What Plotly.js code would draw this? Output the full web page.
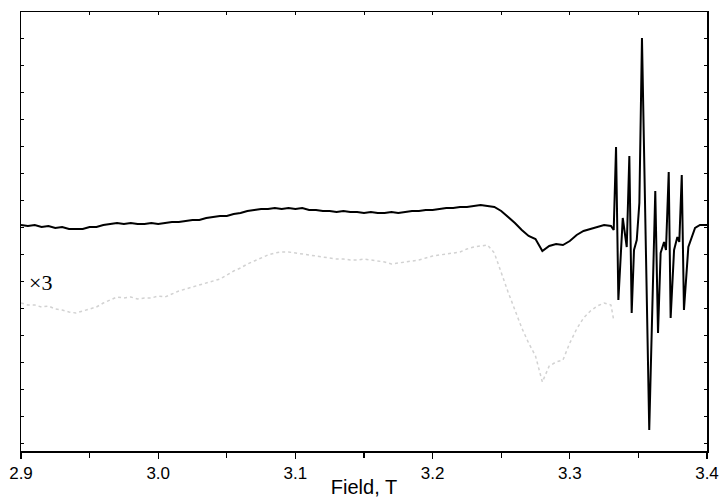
<!DOCTYPE html>
<html>
<head>
<meta charset="utf-8">
<script src="https://cdn.plot.ly/plotly-3.0.1.min.js"></script>
<style>html,body{margin:0;padding:0;background:#fff;}#chart{width:722px;height:498px;}</style>
</head>
<body>
<div id="chart"></div>
<script>
// Field (T) and signal (arbitrary units) for the measured spectrum
const fieldBlack = [
  2.900,2.905,2.910,2.915,2.920,2.925,2.930,2.935,2.940,2.945,2.950,2.955,2.960,2.965,2.970,2.975,2.980,2.985,2.990,2.995,
  3.000,3.005,3.010,3.015,3.020,3.025,3.030,3.035,3.040,3.045,3.050,3.055,3.060,3.065,3.070,3.075,3.080,3.085,3.090,3.095,
  3.100,3.105,3.110,3.115,3.120,3.125,3.130,3.135,3.140,3.145,3.150,3.155,3.160,3.165,3.170,3.175,3.180,3.185,3.190,3.195,
  3.200,3.205,3.210,3.215,3.220,3.225,3.230,3.235,3.240,3.245,3.250,3.255,3.260,3.265,3.270,3.275,3.280,3.285,3.290,3.295,
  3.300,3.305,3.310,3.315,3.320,3.325,3.330,3.332,
  3.3337,3.3354,3.3386,3.3415,3.3434,3.3451,3.3468,3.3488,3.3507,3.3526,3.3579,3.3623,3.3643,3.3662,3.3687,3.3701,
  3.3721,3.3735,3.3760,3.3784,3.3798,3.3816,3.3832,3.3864,3.3913,3.3949,3.400
];
const signalBlack = [
  0,-1,0,-2,-1,-3,-2,-4,-4,-4,-2,-2,0,1,2,1,2,1,1,2,
  1,2,3,3,4,5,5,7,8,9,9,11,12,14,15,16,16,17,16,17,
  16,17,15,15,14,14,13,14,13,13,12,13,12,12,13,12,13,14,14,15,
  15,16,17,17,18,18,19,20,19,18,14,8,2,-5,-11,-14,-26,-21,-19,-20,
  -16,-10,-6,-4,-2,0,-1,-5,
  78,-75,7,-22,69,-88,-25,-15,22,187,-205,34,-108,-28,-17,-25,
  53,-93,-25,-12,-17,50,-85,-22,-3,0,0
];
// The same spectrum magnified x3 (offset, dotted grey)
const fieldGrey = [
  2.900,2.905,2.910,2.915,2.920,2.925,2.930,2.935,2.940,2.945,2.950,2.955,2.960,2.965,2.970,2.975,2.980,2.985,2.990,2.995,
  3.000,3.005,3.010,3.015,3.020,3.025,3.030,3.035,3.040,3.045,3.050,3.055,3.060,3.065,3.070,3.075,3.080,3.085,3.090,3.095,
  3.100,3.105,3.110,3.115,3.120,3.125,3.130,3.135,3.140,3.145,3.150,3.155,3.160,3.165,3.170,3.175,3.180,3.185,3.190,3.195,
  3.200,3.205,3.210,3.215,3.220,3.225,3.230,3.235,3.240,3.245,3.250,3.255,3.260,3.265,3.270,3.275,3.280,3.285,3.290,3.295,
  3.300,3.305,3.310,3.315,3.320,3.325,3.330,3.332
];
const signalGrey = [
  -78,-80,-80,-82,-81,-84,-85,-87,-88,-86,-84,-82,-78,-75,-72,-73,-72,-74,-73,-73,
  -71,-72,-69,-66,-64,-62,-60,-58,-56,-54,-50,-46,-43,-39,-36,-33,-30,-28,-27,-27,
  -28,-29,-30,-31,-32,-33,-34,-34,-35,-35,-34,-35,-36,-37,-39,-38,-37,-36,-35,-33,
  -31,-30,-29,-28,-27,-24,-22,-21,-20,-28,-48,-67,-85,-103,-118,-131,-157,-141,-137,-135,
  -118,-104,-93,-86,-81,-78,-80,-95
];
const xTickVals = [2.9,3.0,3.1,3.2,3.3,3.4];
const xTickText = ["2.9","3.0","3.1","3.2","3.3","3.4"];
const magLabel = "×3";

const traces = [
  {x: fieldGrey, y: signalGrey, type: 'scatter', mode: 'lines', xaxis: 'x2',
   line: {color: '#d2d2d2', width: 1.5, dash: 'dot'}, hoverinfo: 'skip'},
  {x: fieldBlack, y: signalBlack, type: 'scatter', mode: 'lines',
   line: {color: '#000000', width: 2}, hoverinfo: 'skip'}
];

const axisFont = {family: 'Liberation Sans, Arial, sans-serif', size: 17, color: '#000'};
const layout = {
  width: 722, height: 498,
  margin: {l: 21, r: 15, t: 12, b: 47},
  paper_bgcolor: '#fff', plot_bgcolor: '#fff',
  showlegend: false,
  xaxis: {
    range: [2.9, 3.4], showgrid: false, zeroline: false,
    showline: true, linecolor: '#000', linewidth: 1.5,
    tickmode: 'array', tickvals: xTickVals, ticktext: xTickText,
    ticks: 'outside', ticklen: 6, tickwidth: 1.2, tickcolor: '#000',
    minor: {dtick: 0.05, tick0: 2.9, ticks: 'outside', ticklen: 5, tickwidth: 1.2, tickcolor: '#000', showgrid: false},
    tickfont: axisFont,
    title: {text: 'Field, T', font: {family: 'Liberation Sans, Arial, sans-serif', size: 20, color: '#000'}, standoff: 4},
    automargin: false, fixedrange: true
  },
  xaxis2: {
    range: [2.9, 3.4], overlaying: 'x', side: 'top', anchor: 'y',
    showgrid: false, zeroline: false, showline: true, linecolor: '#000', linewidth: 1.5,
    ticks: 'inside', dtick: 0.05, tick0: 2.9, ticklen: 3, tickwidth: 1, tickcolor: '#000',
    showticklabels: false, fixedrange: true
  },
  yaxis: {
    range: [-226, 213], showgrid: false, zeroline: false,
    showline: true, linecolor: '#000', linewidth: 1.5, mirror: 'ticks',
    ticks: 'inside', tick0: 25, dtick: 27, ticklen: 3, tickwidth: 1, tickcolor: '#000',
    showticklabels: false, automargin: false, fixedrange: true
  },
  annotations: [
    {x: 2.9139, y: -57, xref: 'x', yref: 'y', text: magLabel, showarrow: false,
     xanchor: 'center', yanchor: 'middle',
     font: {family: 'Liberation Serif, Times New Roman, serif', size: 22, color: '#000'}}
  ]
};

Plotly.newPlot('chart', traces, layout, {displayModeBar: false, staticPlot: true});
</script>
</body>
</html>
